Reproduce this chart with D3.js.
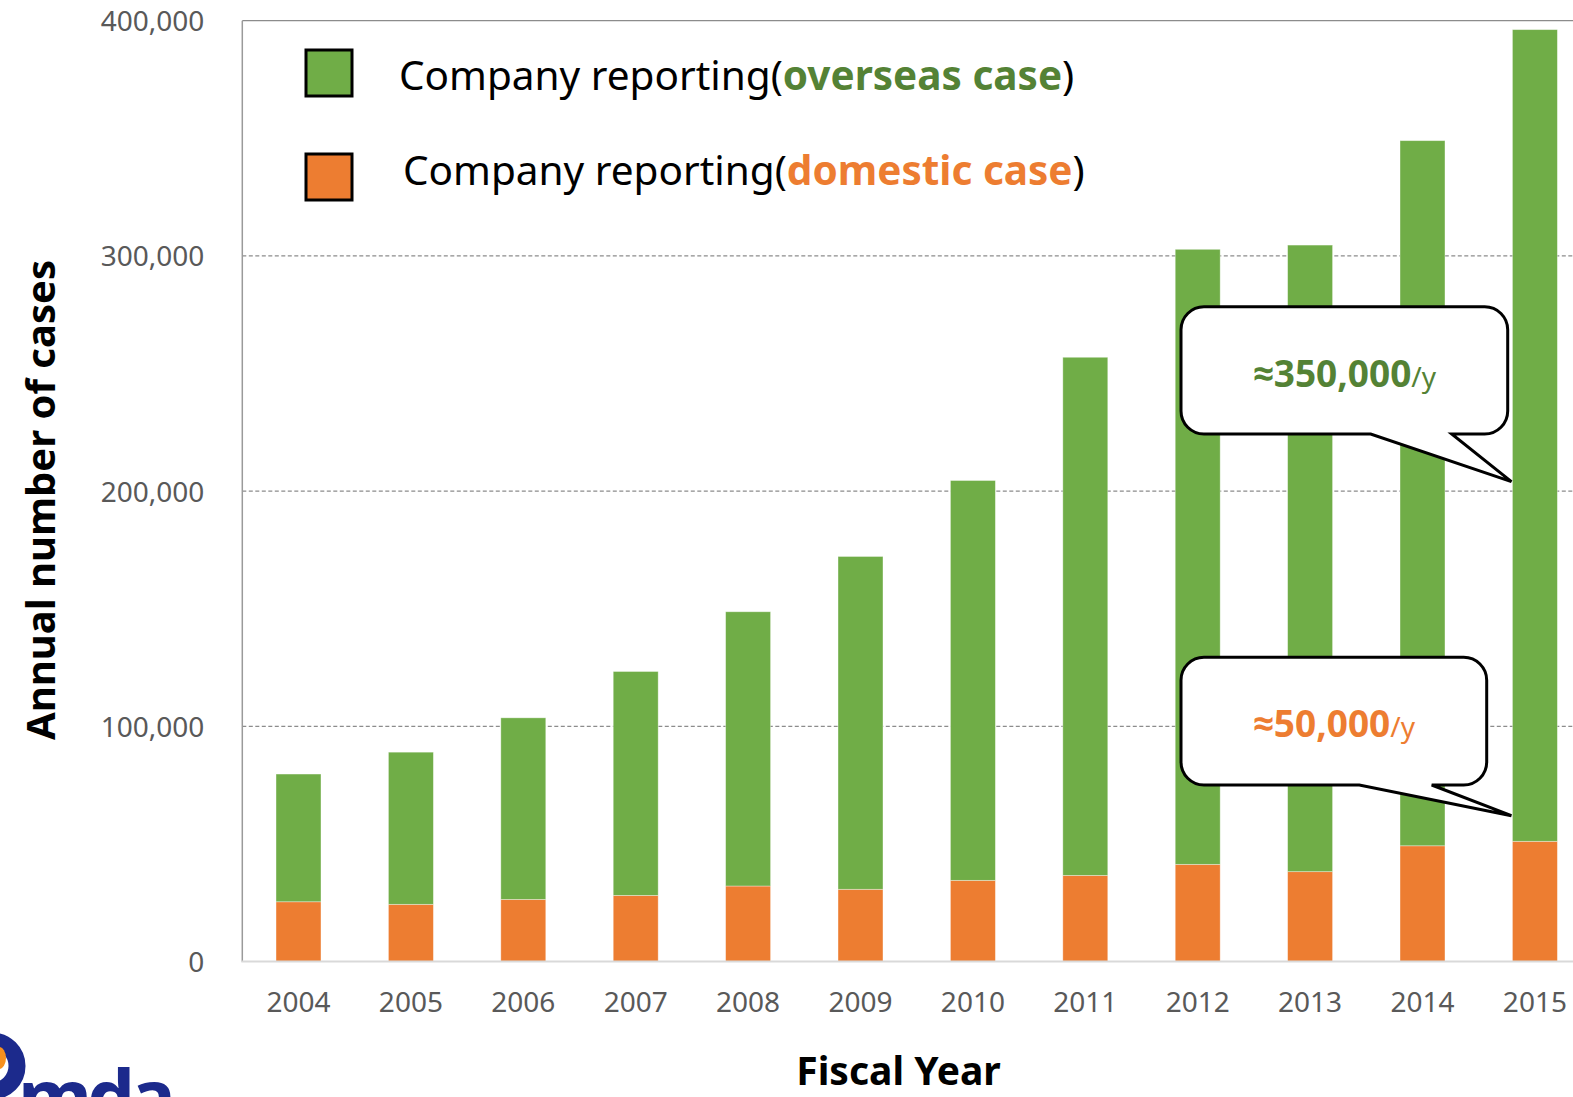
<!DOCTYPE html>
<html>
<head>
<meta charset="utf-8">
<script src="https://cdn.jsdelivr.net/npm/d3@7"></script>
<style>
  html, body { margin: 0; padding: 0; background: #ffffff; }
  svg { display: block; }
  text { font-family: "Noto Sans", "Open Sans", sans-serif; }
</style>
</head>
<body>
<svg id="chart" width="1573" height="1097"></svg>
<script>
// Fiscal years on the x axis
const years = ["2004", "2005", "2006", "2007", "2008", "2009", "2010", "2011", "2012", "2013", "2014", "2015"];

// Company reports per fiscal year (cases)
const domestic = [25400, 24300, 26400, 28100, 32100, 30700, 34500, 36600, 41300, 38200, 49200, 51100];
const overseas = [54300, 64700, 77200, 95200, 116600, 141500, 170000, 220300, 261500, 266400, 299800, 345100];

// Y axis ticks
const yTicks = [0, 100000, 200000, 300000, 400000];

// Legend entries: plain prefix, coloured keyword, closing bracket
const legendItems = [
  { key: "overseas", prefix: "Company reporting(", word: "overseas case", suffix: ")" },
  { key: "domestic", prefix: "Company reporting(", word: "domestic case", suffix: ")" }
];

// Callout annotations
const callouts = [
  { key: "overseas", value: "\u2248350,000", unit: "/y", pointAt: 204000 },
  { key: "domestic", value: "\u224850,000", unit: "/y", pointAt: 62000 }
];

const fillColor = { overseas: "#70AD47", domestic: "#ED7D31" };
const textColor = { overseas: "#548235", domestic: "#ED7D31" };

const rows = years.map((y, i) => ({ year: y, domestic: domestic[i], overseas: overseas[i] }));

const svg = d3.select("#chart");

const plot = { left: 242.3, top: 20.7, bottom: 961.5, step: 112.4 };

const x = d3.scaleBand()
  .domain(years)
  .range([plot.left, plot.left + plot.step * years.length])
  .paddingInner(0.6)
  .paddingOuter(0.3);

const y = d3.scaleLinear()
  .domain([0, 400000])
  .range([plot.bottom, plot.top]);

// Horizontal gridlines (dashed) and the top border
svg.append("g")
  .selectAll("line")
  .data(yTicks.filter(v => v > 0))
  .join("line")
  .attr("x1", plot.left)
  .attr("x2", 1573)
  .attr("y1", d => y(d))
  .attr("y2", d => y(d))
  .attr("stroke", "#8c8c8c")
  .attr("stroke-width", 1.3)
  .attr("stroke-dasharray", d => d === 400000 ? null : "4,2.5");

// Stacked bars: domestic at the bottom, overseas on top
const stack = d3.stack().keys(["domestic", "overseas"]);
const series = stack(rows);

svg.append("g")
  .selectAll("g")
  .data(series)
  .join("g")
  .attr("fill", d => fillColor[d.key])
  .selectAll("rect")
  .data(d => d)
  .join("rect")
  .attr("x", d => x(d.data.year))
  .attr("width", x.bandwidth())
  .attr("y", d => y(d[1]))
  .attr("height", d => y(d[0]) - y(d[1]))
  .attr("stroke", "#ffffff")
  .attr("stroke-opacity", 0.45)
  .attr("stroke-width", 0.8);

// Value axis line
svg.append("line")
  .attr("x1", plot.left).attr("x2", plot.left)
  .attr("y1", plot.top).attr("y2", plot.bottom)
  .attr("stroke", "#9a9a9a")
  .attr("stroke-width", 1.5);

// Category axis line
svg.append("line")
  .attr("x1", plot.left - 1).attr("x2", 1573)
  .attr("y1", plot.bottom).attr("y2", plot.bottom)
  .attr("stroke", "#d9d9d9")
  .attr("stroke-width", 2.2);

// Y tick labels
const yAxis = svg.append("g")
  .attr("transform", `translate(${plot.left},0)`)
  .call(d3.axisLeft(y).tickValues(yTicks).tickFormat(d3.format(",")).tickSize(0).tickPadding(38));
yAxis.select(".domain").remove();
yAxis.selectAll("text")
  .attr("font-family", "'Noto Sans', sans-serif")
  .attr("font-size", 28)
  .attr("fill", "#595959")
  .attr("dy", "0.36em");

// X tick labels
svg.append("g")
  .selectAll("text")
  .data(years)
  .join("text")
  .attr("x", d => x(d) + x.bandwidth() / 2)
  .attr("y", 1012)
  .attr("text-anchor", "middle")
  .attr("font-size", 28)
  .attr("fill", "#595959")
  .text(d => d);

// Axis titles
svg.append("text")
  .attr("transform", "translate(55,500) rotate(-90)")
  .attr("text-anchor", "middle")
  .attr("font-size", 40)
  .attr("font-weight", "bold")
  .attr("fill", "#000000")
  .text("Annual number of cases");

svg.append("text")
  .attr("x", 898.5)
  .attr("y", 1085)
  .attr("text-anchor", "middle")
  .attr("font-size", 39)
  .attr("font-weight", "bold")
  .attr("fill", "#000000")
  .text("Fiscal Year");

// Legend
const legendPos = [
  { sx: 306, sy: 50, tx: 399, ty: 90 },
  { sx: 306, sy: 154, tx: 403, ty: 185 }
];
const legend = svg.append("g");
legendItems.forEach((item, i) => {
  const p = legendPos[i];
  legend.append("rect")
    .attr("x", p.sx).attr("y", p.sy)
    .attr("width", 46).attr("height", 46)
    .attr("fill", fillColor[item.key])
    .attr("stroke", "#000000")
    .attr("stroke-width", 3);
  const t = legend.append("text")
    .attr("x", p.tx).attr("y", p.ty)
    .attr("font-size", 40.5)
    .attr("fill", "#000000");
  t.append("tspan").text(item.prefix);
  t.append("tspan")
    .attr("font-weight", "bold")
    .attr("fill", textColor[item.key])
    .text(item.word);
  t.append("tspan").text(item.suffix);
});

// Speech-bubble callouts pointing into the 2015 bar
const boxes = [
  { x0: 1181, y0: 306.7, x1: 1507.7, y1: 434, a: 1370.7, b: 1451.7, ty: 387 },
  { x0: 1181, y0: 657.3, x1: 1486.7, y1: 785, a: 1359.3, b: 1431.7, ty: 737 }
];

function bubblePath(bx, tipX, tipY) {
  const r = 23;
  const p = d3.path();
  p.moveTo(bx.x0 + r, bx.y0);
  p.lineTo(bx.x1 - r, bx.y0);
  p.arcTo(bx.x1, bx.y0, bx.x1, bx.y0 + r, r);
  p.lineTo(bx.x1, bx.y1 - r);
  p.arcTo(bx.x1, bx.y1, bx.x1 - r, bx.y1, r);
  p.lineTo(bx.b, bx.y1);
  p.lineTo(tipX, tipY);
  p.lineTo(bx.a, bx.y1);
  p.lineTo(bx.x0 + r, bx.y1);
  p.arcTo(bx.x0, bx.y1, bx.x0, bx.y1 - r, r);
  p.lineTo(bx.x0, bx.y0 + r);
  p.arcTo(bx.x0, bx.y0, bx.x0 + r, bx.y0, r);
  p.closePath();
  return p.toString();
}

callouts.forEach((c, i) => {
  const bx = boxes[i];
  const tipX = x("2015") - 1;
  const tipY = y(c.pointAt);
  svg.append("path")
    .attr("d", bubblePath(bx, tipX, tipY))
    .attr("fill", "#ffffff")
    .attr("stroke", "#000000")
    .attr("stroke-width", 3)
    .attr("stroke-linejoin", "miter");
  const t = svg.append("text")
    .attr("x", (bx.x0 + bx.x1) / 2)
    .attr("y", bx.ty)
    .attr("text-anchor", "middle")
    .attr("fill", textColor[c.key]);
  t.append("tspan")
    .attr("font-size", 37)
    .attr("font-weight", "bold")
    .text(c.value);
  t.append("tspan")
    .attr("font-size", 28)
    .text(c.unit);
});

// Agency logo in the lower-left corner
const logo = svg.append("g");
logo.append("circle")
  .attr("cx", -8).attr("cy", 1066)
  .attr("r", 25)
  .attr("fill", "none")
  .attr("stroke", "#1c2a8c")
  .attr("stroke-width", 17);
logo.append("ellipse")
  .attr("cx", -1).attr("cy", 1058)
  .attr("rx", 7).attr("ry", 11)
  .attr("fill", "#f7901e");
logo.append("text")
  .attr("x", 18)
  .attr("y", 1124)
  .attr("font-size", 76)
  .attr("font-weight", "bold")
  .attr("fill", "#1c2a8c")
  .attr("letter-spacing", -5)
  .text("mda");
</script>
</body>
</html>
